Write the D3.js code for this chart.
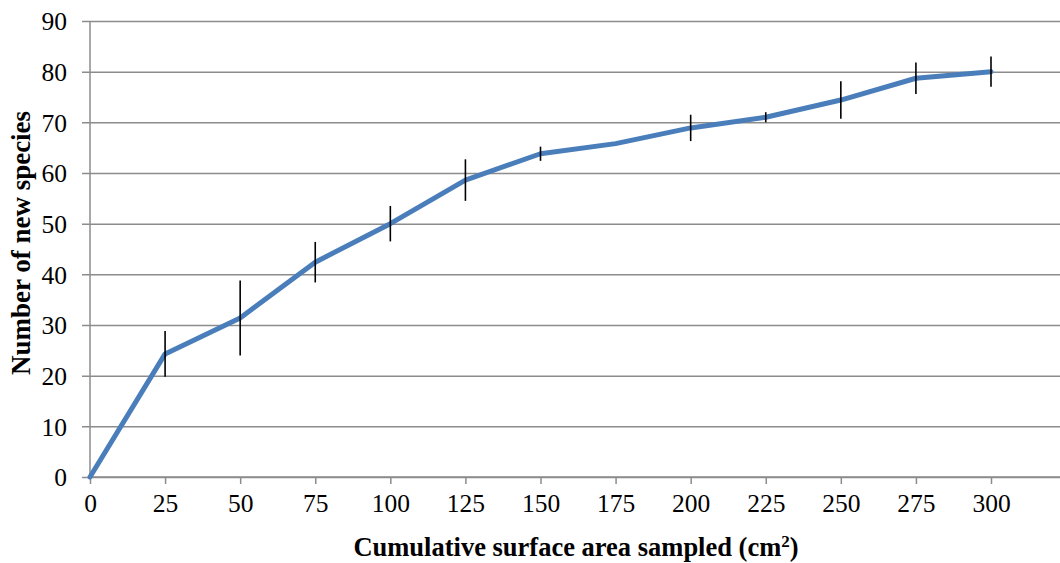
<!DOCTYPE html>
<html>
<head>
<meta charset="utf-8">
<script src="https://cdn.jsdelivr.net/npm/d3@7"></script>
<style>
  html, body { margin: 0; padding: 0; background: #fff; }
  svg { display: block; }
  svg text { font-family: "Liberation Serif", "Times New Roman", Times, "DejaVu Serif", serif !important; }
</style>
</head>
<body>
<svg id="chart" width="1060" height="563"></svg>
<script>
// Species accumulation: cumulative sampled area vs. new species found
const areas = [0, 25, 50, 75, 100, 125, 150, 175, 200, 225, 250, 275, 300];
const species = [0, 24.3, 31.4, 42.4, 50.0, 58.6, 63.8, 65.8, 68.9, 71.0, 74.4, 78.7, 80.0];
const errors = [0, 4.5, 7.4, 4.0, 3.5, 4.1, 1.4, 0, 2.6, 1.0, 3.7, 3.1, 3.0];
const yTicks = [0, 10, 20, 30, 40, 50, 60, 70, 80, 90];

const svg = d3.select("#chart");
const plotLeft = 90, plotRight = 991, plotTop = 21, plotBottom = 477, axisEnd = 1060;

const x = d3.scaleLinear().domain([0, 300]).range([plotLeft, plotRight]);
const y = d3.scaleLinear().domain([0, 90]).range([plotBottom, plotTop]);

// Horizontal gridlines with outward tick stubs
const yAxis = d3.axisLeft(y).tickValues(yTicks).tickSize(-(axisEnd - plotLeft)).tickPadding(23);
const gy = svg.append("g").attr("transform", `translate(${plotLeft},0)`).call(yAxis);
gy.attr("font-family", null);
gy.select(".domain").remove();
gy.selectAll(".tick line").attr("stroke", "#8c8c8c").attr("stroke-width", 1.5).attr("x1", -8);
gy.selectAll(".tick text").attr("font-size", 25.5).attr("fill", "#000").attr("dy", "0.34em");

// Vertical axis line
svg.append("line")
  .attr("x1", plotLeft).attr("x2", plotLeft).attr("y1", plotTop).attr("y2", plotBottom)
  .attr("stroke", "#8c8c8c").attr("stroke-width", 1.5);

// Bottom axis
const xAxis = d3.axisBottom(x).tickValues(areas).tickSize(7).tickPadding(10).tickSizeOuter(0);
const gx = svg.append("g").attr("transform", `translate(0,${plotBottom})`).call(xAxis);
gx.attr("font-family", null);
gx.select(".domain").attr("d", `M${plotLeft},0H${axisEnd}`).attr("stroke", "#8c8c8c").attr("stroke-width", 1.5);
gx.selectAll(".tick line").attr("stroke", "#8c8c8c").attr("stroke-width", 1.5);
gx.selectAll(".tick text").attr("font-size", 25.5).attr("fill", "#000");

// Series line
const pts = areas.map((a, i) => ({ a, v: species[i], e: errors[i] }));
svg.append("path")
  .datum(pts)
  .attr("fill", "none")
  .attr("stroke", "#4a7ebb")
  .attr("stroke-width", 5)
  .attr("stroke-linejoin", "round")
  .attr("stroke-linecap", "round")
  .attr("d", d3.line().x(d => x(d.a)).y(d => y(d.v)));

// Error bars
svg.append("g").selectAll("line")
  .data(pts.filter(d => d.e > 0))
  .join("line")
  .attr("x1", d => x(d.a)).attr("x2", d => x(d.a))
  .attr("y1", d => y(d.v + d.e)).attr("y2", d => y(d.v - d.e))
  .attr("stroke", "#000").attr("stroke-width", 1.6);

// Axis titles
const xt = svg.append("text")
  .attr("x", 576).attr("y", 556)
  .attr("text-anchor", "middle")
  .attr("font-size", 26.5).attr("font-weight", "bold");
xt.append("tspan").text("Cumulative surface area sampled (cm");
xt.append("tspan").attr("font-size", 17).attr("dy", -9).text("2");
xt.append("tspan").attr("dy", 9).text(")");

svg.append("text")
  .attr("transform", "translate(30,243) rotate(-90)")
  .attr("text-anchor", "middle")
  .attr("font-size", 27).attr("font-weight", "bold")
  .text("Number of new species");
</script>
</body>
</html>
